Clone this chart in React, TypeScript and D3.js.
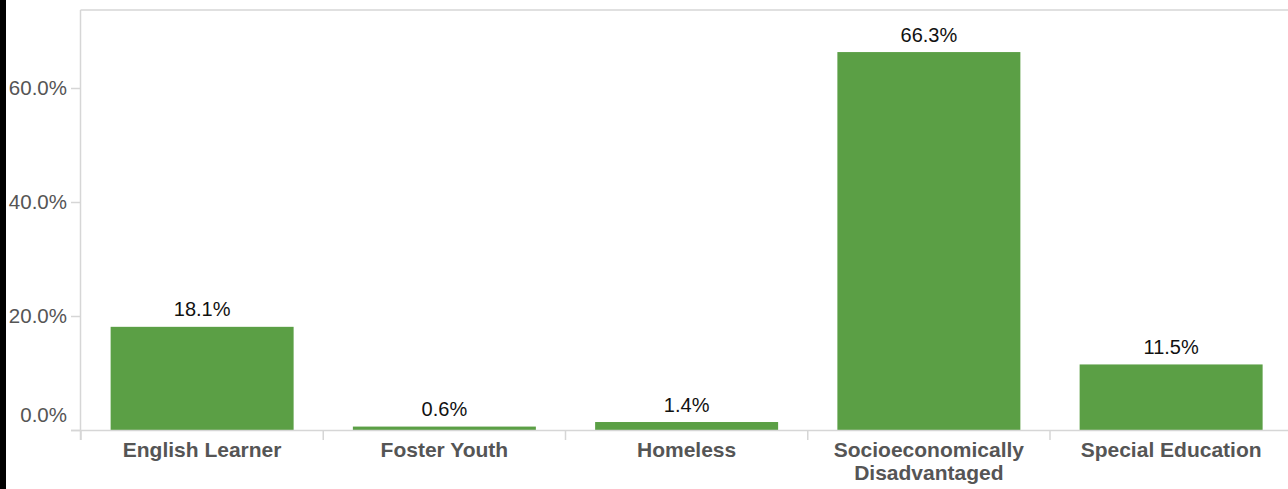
import React from "react";
import * as d3 from "d3";

const categories: string[][] = [
  ["English Learner"],
  ["Foster Youth"],
  ["Homeless"],
  ["Socioeconomically", "Disadvantaged"],
  ["Special Education"],
];
const values: number[] = [18.1, 0.6, 1.4, 66.3, 11.5];
const yTicks: number[] = [0, 20, 40, 60];

const W = 1288;
const H = 489;
const FONT = "'Liberation Sans', Arial, Helvetica, sans-serif";

export default function App() {
  const plotLeft = 80.5;
  const plotTop = 10;
  const baseY = 430;
  const y = d3.scaleLinear().domain([0, 73.68]).range([baseY, plotTop]);
  const keys = categories.map((c) => c.join(" "));
  const pi = 0.2446;
  const x = d3
    .scaleBand<string>()
    .domain(keys)
    .range([81, 81 + 5 * 242.25])
    .paddingInner(pi)
    .paddingOuter(pi / 2);
  const step = x.step();
  const fmt = (v: number) => v.toFixed(1) + "%";
  const grid = "#d6d6d6";
  return (
    <svg
      width={W}
      height={H}
      style={{ position: "absolute", left: 0, top: 0, background: "#fff" }}
      fontFamily={FONT}
    >
      <rect x={0} y={0} width={6} height={H} fill="#000" />
      {/* frame */}
      <line x1={plotLeft} x2={W} y1={plotTop} y2={plotTop} stroke={grid} strokeWidth={1.5} />
      <line x1={plotLeft} x2={plotLeft} y1={plotTop} y2={440} stroke={grid} strokeWidth={1.5} />
      {/* y ticks */}
      {yTicks.map((t) => (
        <g key={t}>
          <line x1={71} x2={plotLeft} y1={Math.round(y(t)) + 0.5} y2={Math.round(y(t)) + 0.5} stroke={grid} strokeWidth={1.5} />
          <text
            x={67}
            y={t === 0 ? y(t) - 8.5 : y(t) + 7}
            textAnchor="end"
            fontSize={20.5}
            fill="#555"
          >
            {fmt(t)}
          </text>
        </g>
      ))}
      {/* bars */}
      {keys.map((k, i) => (
        <rect
          key={k}
          x={x(k)}
          y={y(values[i])}
          width={x.bandwidth()}
          height={baseY - y(values[i])}
          fill="#5b9f45"
        />
      ))}
      {/* baseline */}
      <line x1={71} x2={W} y1={baseY + 0.5} y2={baseY + 0.5} stroke={grid} strokeWidth={1.5} />
      {/* category dividers */}
      {keys.map((k) => {
        const xx = (x(k) as number) - (step * pi) / 2;
        return <line key={k} x1={xx} x2={xx} y1={baseY} y2={440} stroke={grid} strokeWidth={1.5} />;
      })}
      {/* value labels */}
      {keys.map((k, i) => (
        <text
          key={k}
          x={(x(k) as number) + x.bandwidth() / 2}
          y={y(values[i]) - 10.5}
          textAnchor="middle"
          fontSize={20}
          fill="#111"
        >
          {fmt(values[i])}
        </text>
      ))}
      {/* category labels */}
      {categories.map((lines, i) => (
        <text
          key={keys[i]}
          x={(x(keys[i]) as number) + x.bandwidth() / 2}
          y={457}
          textAnchor="middle"
          fontSize={21}
          fontWeight="bold"
          fill="#555"
        >
          {lines.map((l, j) => (
            <tspan key={j} x={(x(keys[i]) as number) + x.bandwidth() / 2} dy={j === 0 ? 0 : 23}>
              {l}
            </tspan>
          ))}
        </text>
      ))}
    </svg>
  );
}
